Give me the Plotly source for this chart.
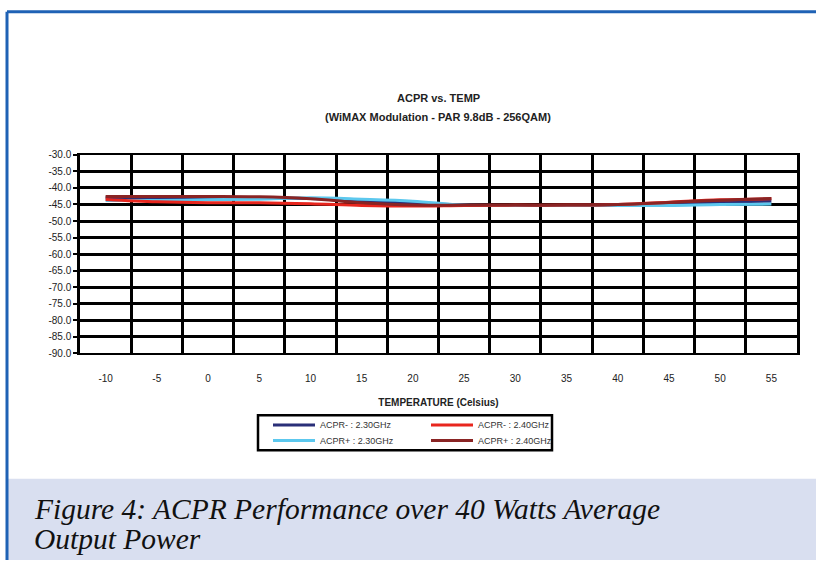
import plotly.graph_objects as go

temps = [-10, -5, 0, 5, 10, 15, 20, 25, 30, 35, 40, 45, 50, 55]
x_tick_labels = ["-10", "-5", "0", "5", "10", "15", "20", "25", "30", "35", "40", "45", "50", "55"]
y_tick_values = [-30, -35, -40, -45, -50, -55, -60, -65, -70, -75, -80, -85, -90]
y_tick_labels = ["-30.0", "-35.0", "-40.0", "-45.0", "-50.0", "-55.0", "-60.0",
                 "-65.0", "-70.0", "-75.0", "-80.0", "-85.0", "-90.0"]

acpr_minus_230 = [-43.0, -43.0, -43.0, -43.0, -43.2, -44.0, -44.6, -45.2, -45.3, -45.3, -45.2, -45.0, -44.3, -44.0]
acpr_plus_230 = [-43.8, -43.8, -43.6, -43.4, -43.0, -43.4, -44.0, -45.2, -45.3, -45.3, -45.3, -45.3, -45.0, -44.9]
acpr_minus_240 = [-43.5, -44.2, -44.5, -44.5, -44.8, -45.3, -45.5, -45.3, -45.2, -45.2, -45.0, -44.3, -43.6, -43.3]
acpr_plus_240 = [-42.6, -42.6, -42.6, -42.7, -43.3, -44.5, -45.2, -45.2, -45.2, -45.2, -45.0, -44.4, -43.7, -43.2]

# (name, values, colour, legend row)
series = [
    ("ACPR- : 2.30GHz", acpr_minus_230, "#2a2f78", "legend"),
    ("ACPR- : 2.40GHz", acpr_minus_240, "#e8261e", "legend"),
    ("ACPR+ : 2.30GHz", acpr_plus_230, "#5cc8ee", "legend2"),
    ("ACPR+ : 2.40GHz", acpr_plus_240, "#8a2424", "legend2"),
]
draw_order = [0, 2, 1, 3]

W, H = 816, 566
def px(x):
    return x / W
def py(y):
    return 1 - y / H

fig = go.Figure()
for i in draw_order:
    name, vals, color, leg = series[i]
    fig.add_trace(go.Scatter(
        x=temps, y=vals, name=name, mode="lines",
        line=dict(color=color, width=3, shape="spline", smoothing=1),
        legend=leg, legendrank=i,
    ))

font = "Liberation Sans, Arial, sans-serif"
leg_font = dict(size=9, family=font, color="#333")

fig.update_layout(
    width=W, height=H,
    margin=dict(l=0, r=0, t=0, b=0),
    paper_bgcolor="white", plot_bgcolor="white",
    showlegend=True,
    font=dict(family=font, color="#222", size=10),
    xaxis=dict(
        domain=[px(80), px(797)],
        range=[-12.5, 57.5],
        tickmode="array", tickvals=temps, ticktext=x_tick_labels,
        showgrid=False, zeroline=False,
        ticks="", ticklabelstandoff=15,
        tickfont=dict(size=10, family=font, color="#222"),
        showline=True, linecolor="black", linewidth=2, mirror=True,
        minor=dict(tick0=-7.5, dtick=5, showgrid=True, gridcolor="black", gridwidth=2.5),
        title=dict(text="<b>TEMPERATURE (Celsius)</b>", font=dict(size=10, family=font, color="#222"), standoff=16),
    ),
    yaxis=dict(
        domain=[py(355), py(152)],
        range=[-90, -30],
        tickmode="array", tickvals=y_tick_values, ticktext=y_tick_labels,
        showgrid=True, gridcolor="black", gridwidth=2.5,
        zeroline=False,
        ticks="outside", ticklen=4, tickwidth=2, tickcolor="black",
        tickfont=dict(size=10, family=font, color="#222"),
        showline=True, linecolor="black", linewidth=2.5, mirror=True,
    ),
    legend=dict(
        x=px(268), y=py(428), xanchor="left", yanchor="middle",
        orientation="h", bgcolor="rgba(0,0,0,0)",
        font=leg_font, entrywidth=101, entrywidthmode="pixels",
        itemwidth=42, traceorder="normal",
    ),
    legend2=dict(
        x=px(268), y=py(444), xanchor="left", yanchor="middle",
        orientation="h", bgcolor="rgba(0,0,0,0)",
        font=leg_font, entrywidth=101, entrywidthmode="pixels",
        itemwidth=42, traceorder="normal",
    ),
)

# legend frame
fig.add_shape(type="rect", xref="paper", yref="paper",
              x0=px(258), x1=px(552), y0=py(454), y1=py(418),
              line=dict(color="black", width=2.5), fillcolor="rgba(0,0,0,0)")

# caption band
fig.add_shape(type="rect", xref="paper", yref="paper",
              x0=px(8), x1=1, y0=0, y1=py(483),
              line=dict(width=0), fillcolor="#d9dff0", layer="below")
# blue frame
fig.add_shape(type="line", xref="paper", yref="paper",
              x0=px(7), x1=1, y0=py(6), y1=py(6),
              line=dict(color="#1f62b5", width=3))
fig.add_shape(type="line", xref="paper", yref="paper",
              x0=px(7), x1=px(7), y0=py(6), y1=0,
              line=dict(color="#1f62b5", width=3))

# titles
fig.add_annotation(text="<b>ACPR vs. TEMP</b>", xref="paper", yref="paper",
                   x=px(438), y=py(86), showarrow=False,
                   font=dict(size=11, family=font, color="#222"))
fig.add_annotation(text="<b>(WiMAX Modulation - PAR 9.8dB - 256QAM)</b>", xref="paper", yref="paper",
                   x=px(438), y=py(105), showarrow=False,
                   font=dict(size=11, family=font, color="#222"))

cap_font = dict(family="Liberation Serif, serif", size=29.5, color="#111")
fig.add_annotation(text="<i>Figure 4: ACPR Performance over 40 Watts Average</i>",
                   xref="paper", yref="paper", x=px(32), y=py(514),
                   xanchor="left", yanchor="middle", showarrow=False, font=cap_font)
fig.add_annotation(text="<i>Output Power</i>",
                   xref="paper", yref="paper", x=px(32), y=py(545),
                   xanchor="left", yanchor="middle", showarrow=False, font=cap_font)

fig.write_html("out.html",
               config={"displayModeBar": False},
               post_script="document.body.style.margin='0';document.body.style.overflow='hidden';")
